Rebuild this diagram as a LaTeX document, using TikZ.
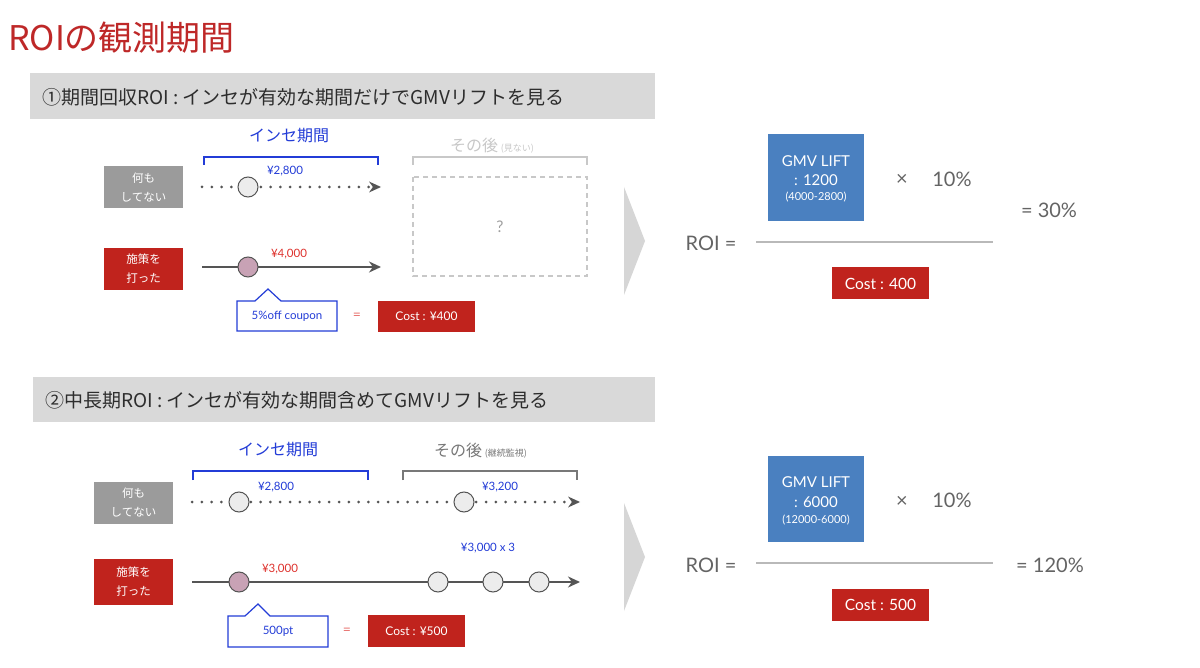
\documentclass[tikz,border=0pt]{standalone}
\usepackage{fontspec}
\setmainfont{Noto Sans CJK JP}
\newfontfamily\lat{Lato}
\usetikzlibrary{arrows.meta}
\definecolor{titlered}{RGB}{190,40,40}
\definecolor{hdrgray}{RGB}{217,217,217}
\definecolor{darktxt}{RGB}{45,45,45}
\definecolor{bluetxt}{RGB}{35,60,215}
\definecolor{boxgray}{RGB}{155,155,155}
\definecolor{boxred}{RGB}{192,35,29}
\definecolor{redtxt}{RGB}{222,50,45}
\definecolor{linegray}{RGB}{85,85,85}
\definecolor{circfill}{RGB}{236,236,236}
\definecolor{pinkfill}{RGB}{200,162,181}
\definecolor{lightgray}{RGB}{200,200,200}
\definecolor{midgray}{RGB}{120,120,120}
\definecolor{liftblue}{RGB}{74,128,192}
\definecolor{formgray}{RGB}{100,100,100}
\definecolor{chev}{RGB}{214,214,214}
\newcommand{\fs}[1]{\fontsize{#1}{#1}\selectfont}
\begin{document}
\begin{tikzpicture}[x=1pt,y=-1pt,
  every node/.style={inner sep=0pt},
  hdrtext/.style={anchor=west,text=darktxt,font=\fs{19}},
  labelbox/.style={minimum width=79pt,minimum height=42pt,text=white,align=center,font=\fontsize{11.5}{19}\selectfont},
  dot/.style={circle,minimum size=20pt,draw=linegray,line width=1pt,fill=circfill},
  pdot/.style={dot,fill=pinkfill},
  dotline/.style={linegray,line width=3pt,dash pattern=on 0pt off 9.8pt,line cap=round,-{Stealth[length=12pt,width=11pt,line cap=butt,line width=0pt]}},
  solline/.style={linegray,line width=2.6pt,-{Stealth[length=12pt,width=11pt]}},
  val/.style={font=\lat\fs{11.5}},
  eqsign/.style={text=redtxt!70,font=\lat\fs{14}},
  bracket/.style={line width=1.2pt},
  costbox/.style={fill=boxred,text=white,font=\lat\fs{12},minimum width=97pt,minimum height=31pt},
  liftbox/.style={fill=liftblue,minimum width=96pt,minimum height=87pt},
  lifttxt/.style={text=white,font=\lat\fs{15}},
  form/.style={text=formgray,font=\lat\fs{20}},
  times/.style={text=formgray,font=\lat\fs{20}},
  fcost/.style={fill=boxred,text=white,font=\lat\fs{15.5},minimum width=97pt,minimum height=32pt},
  fracline/.style={line width=1.2pt,color=lightgray!80!gray}
]
\useasboundingbox (0,0) rectangle (1200,668);
\fill[white] (0,0) rectangle (1200,668);

% title
\node[anchor=west,text=titlered,font=\fs{34}] (title) at (8,38) {ROIの観測期間};

% ===== section 1 =====
\fill[hdrgray] (30,73) rectangle (655,119);
\node[hdrtext] (h1) at (42,97) {①期間回収ROI : インセが有効な期間だけでGMVリフトを見る};

\node[text=bluetxt,font=\fs{16}] (inse1) at (289,136) {インセ期間};
\draw[bracket,bluetxt] (204,165) -- (204,157) -- (378,157) -- (378,165);
\node[anchor=base west,text=lightgray,font=\fs{16}] (sonogo1) at (450,152) {その後\,{\fs{9}(見ない)}};
\draw[bracket,lightgray] (413,165) -- (413,157) -- (587,157) -- (587,165);

\node[labelbox,fill=boxgray] (none1) at (143.5,187.5) {何も\\してない};
\node[labelbox,fill=boxred] (did1) at (143.5,269) {施策を\\打った};

\coordinate (a1s) at (202,187);
\coordinate (a1e) at (381,187);
\coordinate (b1s) at (202,267);
\coordinate (b1e) at (381,267);
\draw[dotline] (a1s) -- (a1e);
\draw[solline] (b1s) -- (b1e);
\node[dot] (c1) at (248,187) {};
\node[pdot] (p1) at (248,267) {};
\node[val,text=bluetxt] (v1) at (285,171) {¥2,800};
\node[val,text=redtxt] (v2) at (289,254) {¥4,000};

\draw[lightgray,line width=1.3pt,dash pattern=on 5pt off 4pt] (413,177) rectangle (587,276);
\node[text=midgray!70,font=\lat\fs{16}] (q) at (500,227) {?};

\draw[bluetxt,line width=1.2pt,fill=white] (237,301) -- (255,301) -- (268,289) -- (281,301) -- (337,301) -- (337,331) -- (237,331) -- cycle;
\node[val,text=bluetxt] (coupon) at (287,316.5) {5\%off coupon};
\node[eqsign] (eq1) at (357,316) {=};
\node[costbox] (cost1) at (426.5,316.5) {Cost : ¥400};

% chevron 1
\fill[chev] (624,187) -- (645,241) -- (624,295) -- cycle;

% formula 1
\node[liftbox] (lift1) at (816,177.5) {};
\node[lifttxt] (l1a) at (816,161) {GMV LIFT};
\node[lifttxt] (l1b) at (816,180) {: 1200};
\node[text=white,font=\lat\fs{11}] (l1c) at (816,197) {(4000-2800)};
\node[times] (x1) at (902,180) {×};
\node[form] (p10a) at (952,179) {10\%};
\node[form] (roi1) at (711,243) {ROI =};
\draw[fracline] (756,242) -- (993,242);
\node[form] (res1) at (1049,210) {= 30\%};
\node[fcost] (fc1) at (880.5,283.5) {Cost : 400};

% ===== section 2 =====
\fill[hdrgray] (33,377) rectangle (655,422);
\node[hdrtext] (h2) at (45,400) {②中長期ROI : インセが有効な期間含めてGMVリフトを見る};

\node[text=bluetxt,font=\fs{16}] (inse2) at (278,450) {インセ期間};
\draw[bracket,bluetxt] (193,480) -- (193,471) -- (368,471) -- (368,480);
\node[anchor=base west,text=midgray,font=\fs{16}] (sonogo2) at (434,456) {その後\,{\fs{9}(継続監視)}};
\draw[bracket,midgray] (403,480) -- (403,471) -- (577,471) -- (577,480);

\node[labelbox,fill=boxgray] (none2) at (133.5,502.5) {何も\\してない};
\node[labelbox,fill=boxred,minimum height=46pt] (did2) at (133.5,582) {施策を\\打った};

\coordinate (a2s) at (192,502);
\coordinate (a2e) at (580,502);
\coordinate (b2s) at (192,582);
\coordinate (b2e) at (580,582);
\draw[dotline] (a2s) -- (a2e);
\draw[solline] (b2s) -- (b2e);
\node[dot] (c2) at (239,502) {};
\node[dot] (c3) at (464,502) {};
\node[pdot] (p2) at (239,582) {};
\node[dot] (g1) at (438,582) {};
\node[dot] (g2) at (493,582) {};
\node[dot] (g3) at (539,582) {};
\node[val,text=bluetxt] (v3) at (276,487) {¥2,800};
\node[val,text=bluetxt] (v4) at (500,487) {¥3,200};
\node[val,text=redtxt] (v5) at (280,569) {¥3,000};
\node[val,text=bluetxt] (v6) at (488,548) {¥3,000 x 3};

\draw[bluetxt,line width=1.2pt,fill=white] (228,616) -- (245,616) -- (258,604) -- (270,616) -- (328,616) -- (328,647) -- (228,647) -- cycle;
\node[val,text=bluetxt] (pt) at (278,631.5) {500pt};
\node[eqsign] (eq2) at (347,631) {=};
\node[costbox,minimum height=32pt] (cost2) at (416.5,631) {Cost : ¥500};

% chevron 2
\fill[chev] (624,503) -- (645,557) -- (624,611) -- cycle;

% formula 2
\node[liftbox,minimum height=86pt] (lift2) at (816,499) {};
\node[lifttxt] (l2a) at (816,482) {GMV LIFT};
\node[lifttxt] (l2b) at (816,502) {: 6000};
\node[text=white,font=\lat\fs{11}] (l2c) at (816,520) {(12000-6000)};
\node[times] (x2) at (902,502) {×};
\node[form] (p10b) at (952,500) {10\%};
\node[form] (roi2) at (711,565) {ROI =};
\draw[fracline] (756,563) -- (993,563);
\node[form] (res2) at (1050,565) {= 120\%};
\node[fcost] (fc2) at (880.5,605) {Cost : 500};
\end{tikzpicture}
\end{document}
